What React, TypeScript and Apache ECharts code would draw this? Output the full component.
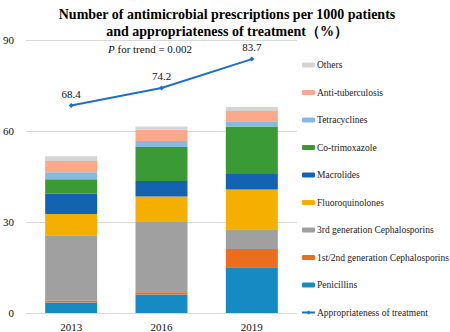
import React, { useEffect, useRef } from "react";
import * as echarts from "echarts";

const years = ["2013", "2016", "2019"];
const penicillins = [3.5, 6.1, 15.1];
const cephalo12 = [0.6, 0.7, 6.0];
const cephalo3 = [21.5, 23.2, 6.5];
const fluoroquinolones = [7.0, 8.4, 13.1];
const macrolides = [6.7, 5.1, 5.1];
const cotrimoxazole = [4.8, 11.2, 15.7];
const tetracyclines = [2.3, 2.0, 1.7];
const antiTB = [3.7, 3.7, 3.4];
const others = [1.6, 1.1, 1.3];
const appropriateness = [68.4, 74.2, 83.7];
const yTicks = [0, 30, 60, 90];

const FONT = "Liberation Serif";

export default function App() {
  const ref = useRef<HTMLDivElement>(null);
  useEffect(() => {
    if (!ref.current) return;
    const chart = echarts.init(ref.current, null, { renderer: "svg" });
    const stacks: [string, number[], string][] = [
      ["Penicillins", penicillins, "#168BC3"],
      ["1st/2nd generation Cephalosporins", cephalo12, "#EC6D1F"],
      ["3rd generation Cephalosporins", cephalo3, "#A0A0A0"],
      ["Fluoroquinolones", fluoroquinolones, "#F5AF00"],
      ["Macrolides", macrolides, "#1462B2"],
      ["Co-trimoxazole", cotrimoxazole, "#3A9A36"],
      ["Tetracyclines", tetracyclines, "#88B9E1"],
      ["Anti-tuberculosis", antiTB, "#FCA88A"],
      ["Others", others, "#D4D4D4"],
    ];
    const barSeries = stacks.map(([name, data, color]) => ({
      name,
      type: "bar",
      stack: "total",
      data,
      barWidth: 52,
      itemStyle: { color },
    }));
    const legendOrder = [
      "Others",
      "Anti-tuberculosis",
      "Tetracyclines",
      "Co-trimoxazole",
      "Macrolides",
      "Fluoroquinolones",
      "3rd generation Cephalosporins",
      "1st/2nd generation Cephalosporins",
      "Penicillins",
      "Appropriateness of treatment",
    ];
    chart.setOption({
      animation: false,
      textStyle: { fontFamily: FONT },
      title: {
        text: "Number of antimicrobial prescriptions per 1000 patients\nand appropriateness of treatment（%）",
        left: 222,
        textAlign: "center",
        top: 1,
        textStyle: {
          fontFamily: FONT,
          fontWeight: "bold",
          fontSize: 14,
          lineHeight: 17,
          color: "#000",
        },
      },
      grid: { left: 24, right: 153, top: 40, bottom: 18 },
      legend: {
        orient: "vertical",
        left: 301,
        top: 58,
        itemWidth: 13,
        itemHeight: 5,
        itemGap: 13.5,
        padding: 0,
        data: legendOrder,
        textStyle: { fontFamily: FONT, fontSize: 9.5, color: "#222", lineHeight: 14, padding: [0, 0, 0, -3] },
      },
      xAxis: {
        type: "category",
        data: years,
        axisTick: { show: false },
        axisLine: { lineStyle: { color: "#D9D9D9", width: 1 } },
        axisLabel: { color: "#111", fontFamily: FONT, fontSize: 11, margin: 8 },
      },
      yAxis: {
        type: "value",
        min: 0,
        max: 90,
        interval: 30,
        axisLine: { show: false },
        axisTick: { show: false },
        splitLine: { lineStyle: { color: "#D9D9D9", width: 1 } },
        axisLabel: {
          color: "#111",
          fontFamily: FONT,
          fontSize: 11,
          margin: 12,
          formatter: (v: number) => (yTicks.includes(v) ? String(v) : ""),
        },
      },
      graphic: [
        {
          type: "text",
          left: 108,
          top: 43,
          style: {
            text: "{i|P} for trend = 0.002",
            fontFamily: FONT,
            fontSize: 11,
            fill: "#111",
            rich: { i: { fontStyle: "italic", fontFamily: FONT, fontSize: 11, fill: "#111" } },
          },
        },
      ],
      series: [
        ...barSeries,
        {
          name: "Appropriateness of treatment",
          type: "line",
          data: appropriateness,
          symbol: "diamond",
          symbolSize: 5,
          lineStyle: { color: "#1F6FC6", width: 2 },
          itemStyle: { color: "#1F6FC6" },
          label: {
            show: true,
            position: "top",
            distance: 4,
            color: "#111",
            fontFamily: FONT,
            fontSize: 11,
          },
          z: 10,
        },
      ],
    });
    return () => chart.dispose();
  }, []);
  return <div ref={ref} style={{ width: 450, height: 332, position: "absolute", left: 0, top: 0 }} />;
}
